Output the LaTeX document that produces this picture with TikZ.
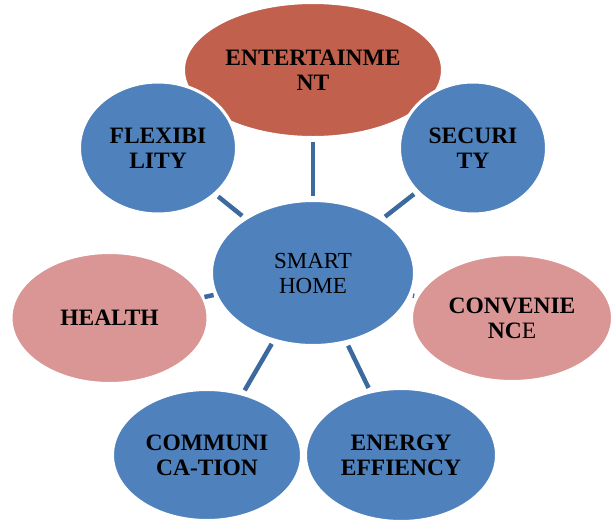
\documentclass[tikz,border=0pt]{standalone}
\usepackage{fontspec}
\setmainfont{Liberation Serif}
\usetikzlibrary{shapes.geometric}
\definecolor{bubbleblue}{HTML}{4F81BD}
\definecolor{bubblered}{HTML}{C0604D}
\definecolor{bubblepink}{HTML}{D99694}
\definecolor{linkblue}{HTML}{3D6A9E}
\tikzset{bubble/.style = {ellipse, draw=white, line width=3pt, inner sep=0pt, align=center, font=\fontsize{23.5}{25}\selectfont\bfseries}}
\tikzset{link/.style = {draw=linkblue, line width=4.5pt, shorten <=3pt, shorten >=3pt}}

\begin{document}
\begin{tikzpicture}[x=1pt,y=-1pt]
\useasboundingbox (0,0) rectangle (611,520);
\node[bubble,fill=bubblered,minimum width=259pt,minimum height=135pt](ent) at (313,70) {ENTERTAINME\\NT};
\node[bubble,fill=bubbleblue,minimum width=157pt,minimum height=132pt](flex) at (158,148) {FLEXIBI\\LITY};
\node[bubble,fill=bubbleblue,minimum width=147pt,minimum height=132pt](sec) at (473,148) {SECURI\\TY};
\node[bubble,fill=bubbleblue,minimum width=203pt,minimum height=145pt,font=\fontsize{23}{25}\selectfont](home) at (313,273) {SMART\\HOME};
\node[bubble,fill=bubblepink,minimum width=197pt,minimum height=131pt](health) at (109.5,318) {HEALTH};
\node[bubble,fill=bubblepink,minimum width=201pt,minimum height=127pt](conv) at (512,318) {CONVENIE\\NC{\mdseries E}};
\node[bubble,fill=bubbleblue,minimum width=189pt,minimum height=131pt](comm) at (207,455) {COMMUNI\\CA-TION};
\node[bubble,fill=bubbleblue,minimum width=191pt,minimum height=133pt](energy) at (401,455) {ENERGY\\EFFIENCY};
\draw[link] (home) -- (ent);
\draw[link] (home) -- (flex);
\draw[link] (home) -- (sec);
\draw[link,shorten <=1pt,shorten >=0pt] (home) -- (health);
\draw[link] (home) -- (conv);
\draw[link] (home) -- (comm);
\draw[link] (home) -- (energy);
\end{tikzpicture}
\end{document}
